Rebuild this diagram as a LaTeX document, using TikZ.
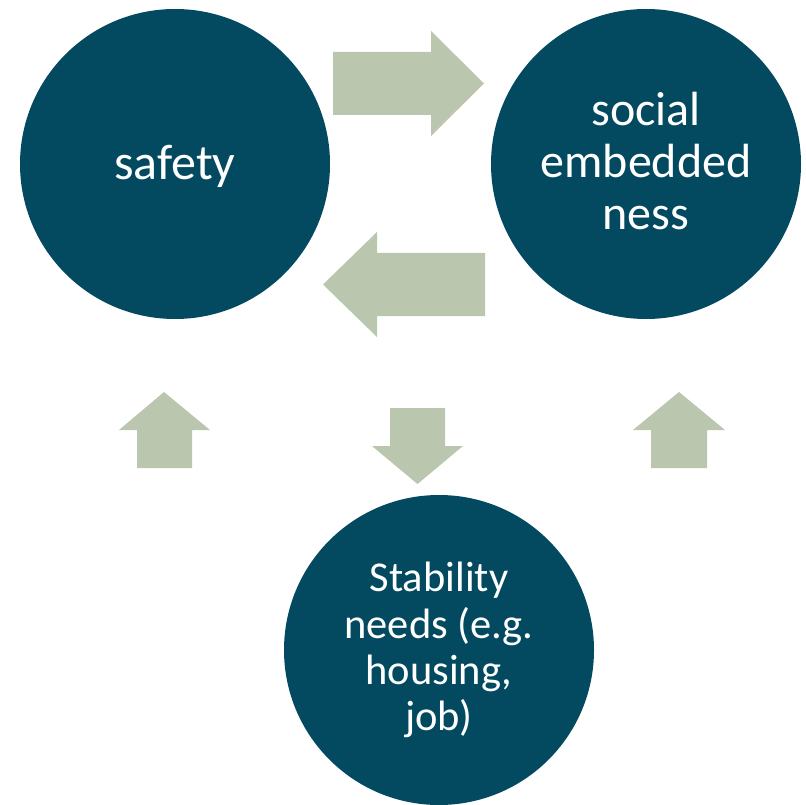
\documentclass[tikz,border=0pt]{standalone}
\usepackage{fontspec}
\setmainfont{Carlito}
\definecolor{circ}{RGB}{3,74,96}
\definecolor{arr}{RGB}{187,198,174}
\begin{document}
\begin{tikzpicture}[x=1pt,y=-1pt,
  bubble/.style={circle,fill=circ,draw=none,minimum size=310pt,inner sep=0pt},
  lbl/.style={text=white,align=center,inner sep=0pt},
  big/.style={font=\fontsize{48}{51.7}\selectfont},
  small/.style={font=\fontsize{42.5}{46.2}\selectfont},
  blockarrow/.style={fill=arr,draw=none}]
\useasboundingbox (0,0) rectangle (806,805);
% circles
\node[bubble] (safety) at (175,164) {};
\node[bubble] (social) at (646,164) {};
\node[bubble] (stab) at (439,650) {};
% labels
\node[lbl,font=\fontsize{50}{54}\selectfont,yshift=-2pt] (tsafety) at (safety.center) {safety};
\node[lbl,big,yshift=3pt] (tsocial) at (social.center) {social\\embedded\\ness};
\node[lbl,small] (tstab) at (stab.center) {Stability\\needs (e.g.\\housing,\\job)};
% right arrow
\fill[blockarrow] (333,52) -- (431,52) -- (431,31) -- (484,83.5) -- (431,136) -- (431,115) -- (333,115) -- cycle;
% left arrow
\fill[blockarrow] (485,253) -- (377,253) -- (377,232) -- (323,284.5) -- (377,337) -- (377,316) -- (485,316) -- cycle;
% up arrow left
\fill[blockarrow] (137,468) -- (137,430) -- (119,430) -- (164,392) -- (210,430) -- (192,430) -- (192,468) -- cycle;
% down arrow middle
\fill[blockarrow] (390,408) -- (445,408) -- (445,446) -- (463,446) -- (417.5,484) -- (372,446) -- (390,446) -- cycle;
% up arrow right
\fill[blockarrow] (651,468) -- (651,430) -- (633,430) -- (679,392) -- (725,430) -- (707,430) -- (707,468) -- cycle;
\end{tikzpicture}
\end{document}
